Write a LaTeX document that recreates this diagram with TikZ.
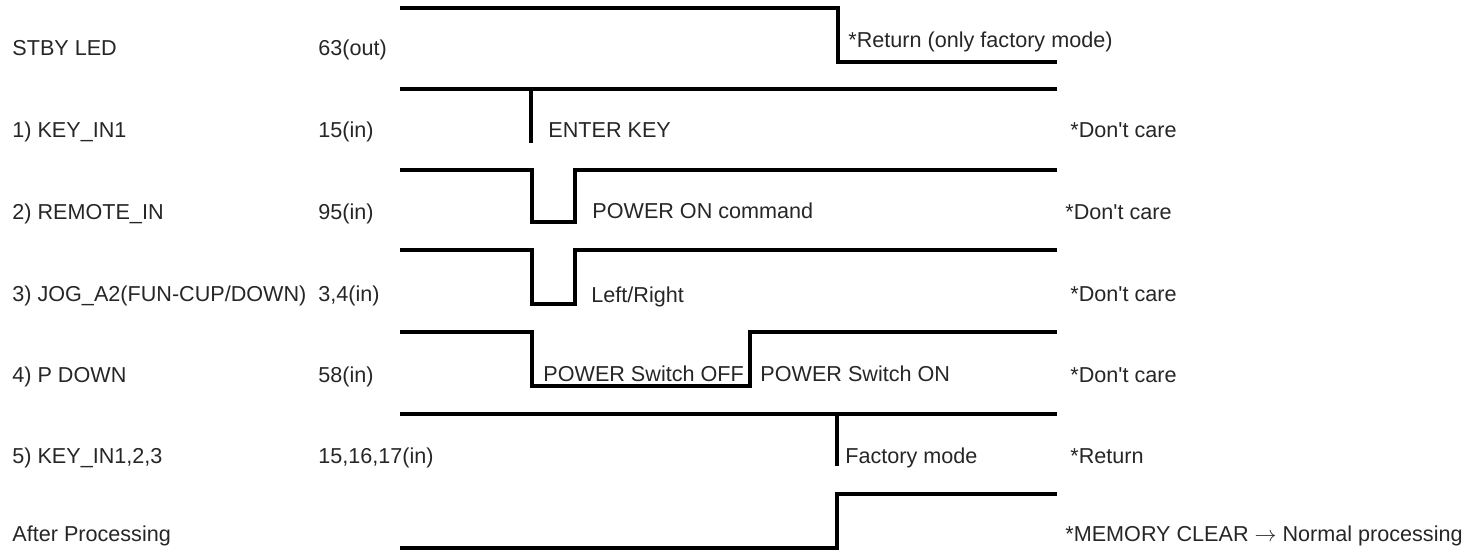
\documentclass[tikz,border=0pt]{standalone}
\usepackage{fontspec}
\setmainfont{Liberation Sans}
\usetikzlibrary{positioning}

\begin{document}
\begin{tikzpicture}[
x=0.5pt, y=-0.5pt,
sig/.style={line width=1.8pt},
pulse/.style={line width=2.3pt},
lbl/.style={anchor=base west, inner sep=0pt, font=\fontsize{10.8}{13}\selectfont, text=black!85}
]
\useasboundingbox (0,0) rectangle (1481,551);

% Signal names
\node[lbl] (stby) at (12,56) {STBY LED};
\node[lbl] (key) at (12,137) {1) KEY\_IN1};
\node[lbl] (remote) at (12,219) {2) REMOTE\_IN};
\node[lbl] (jog) at (12,301) {3) JOG\_A2(FUN-CUP/DOWN)};
\node[lbl] (pdown) at (12,382) {4) P DOWN};
\node[lbl] (keys) at (12,463) {5) KEY\_IN1,2,3};
\node[lbl] (after) at (12,541) {After Processing};

% Pins
\node[lbl] (stby_pin) at (318,56) {63(out)};
\node[lbl] (key_pin) at (318,137) {15(in)};
\node[lbl] (remote_pin) at (318,219) {95(in)};
\node[lbl] (jog_pin) at (318,301) {3,4(in)};
\node[lbl] (pdown_pin) at (318,382) {58(in)};
\node[lbl] (keys_pin) at (318,463) {15,16,17(in)};

% Waveforms
\draw[sig] (400,8) -- (838,8) -- (838,62) -- (1057,62);
\draw[sig] (400,89) -- (1057,89);
\draw[pulse] (531,89) -- (531,143);
\draw[sig] (400,170) -- (532,170) -- (532,222) -- (575,222) -- (575,170) -- (1057,170);
\draw[sig] (400,250) -- (532,250) -- (532,304) -- (575,304) -- (575,250) -- (1057,250);
\draw[sig] (400,332) -- (532,332) -- (532,386) -- (750,386) -- (750,332) -- (1057,332);
\draw[pulse] (400,414) -- (1057,414);
\draw[sig] (837,414) -- (837,466);
\draw[sig] (400,548) -- (837,548) -- (837,494) -- (1057,494);

% Events
\node[lbl] (stby_ev) at (848,48) {*Return (only factory mode)};
\node[lbl] (key_ev) at (548,137) {ENTER KEY};
\node[lbl] (remote_ev) at (592,218) {POWER ON command};
\node[lbl] (jog_ev) at (591,302) {Left/Right};
\node[lbl] (pdown_off) at (543,381) {POWER Switch OFF};
\node[lbl] (pdown_on) at (760,381) {POWER Switch ON};
\node[lbl] (keys_ev) at (845,463) {Factory mode};

% Notes
\node[lbl] (key_note) at (1070,137) {*Don\textquotesingle t care};
\node[lbl] (remote_note) at (1065,219) {*Don\textquotesingle t care};
\node[lbl] (jog_note) at (1070,301) {*Don\textquotesingle t care};
\node[lbl] (pdown_note) at (1070,382) {*Don\textquotesingle t care};
\node[lbl] (keys_note) at (1070,463) {*Return};
\node[lbl] (after_note) at (1065,541) {*MEMORY CLEAR $\rightarrow$ Normal processing};
\end{tikzpicture}
\end{document}
